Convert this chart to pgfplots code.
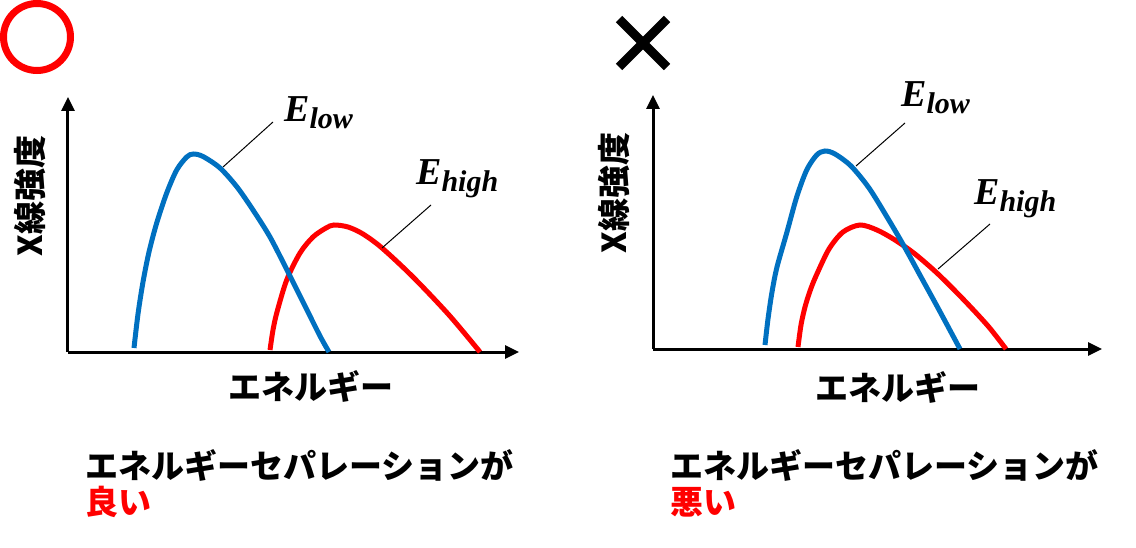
\documentclass[border=0pt]{standalone}
\usepackage{fontspec}
\usepackage{pgfplots}
\pgfplotsset{compat=1.18}
\usetikzlibrary{arrows.meta}
\newfontfamily\jp{Noto Sans CJK JP}
\newfontfamily\eserif{Liberation Serif}
\definecolor{lowblue}{HTML}{0070C0}
\definecolor{highred}{HTML}{FF0000}

% E with a subscript, as in the reference
\newcommand{\elabel}[1]{{\eserif\bfseries\itshape\fontsize{38}{40}\selectfont E\raisebox{-7pt}{\fontsize{30}{32}\selectfont #1}}}

\pgfplotsset{
  panel/.style={
    scale only axis, anchor=south west, clip=false,
    xmin=0, ymin=0,
    axis lines=left, ticks=none,
    axis line style={line width=3pt, -{Triangle[length=14pt,width=13pt]}},
    label style={font=\jp\bfseries\fontsize{33}{36}\selectfont},
    x label style={anchor=center},
    y label style={anchor=center, rotate=0},
  },
  curve/.style={line width=5pt, smooth, tension=0.5, no markers},
}

\begin{document}
\begin{tikzpicture}
\path[use as bounding box] (0pt,0pt) rectangle (1136pt,547pt);

% left panel: good separation
\draw[highred, line width=7pt] (37pt,510pt) circle (33.5pt);
\begin{axis}[panel, at={(68pt,195pt)}, width=451pt, height=255pt,
  xmax=451, ymax=255,
  xlabel={エネルギー}, ylabel={X線強度},
  x label style={at={(axis description cs:0.539,-0.137)}},
  y label style={at={(axis description cs:-0.084,0.612)}}]
\addplot[curve, highred] coordinates {
  (202,2) (205,22) (209,40) (218.7,72) (232,99) (245,115) (258,124) (266,127)
  (280,125) (295,118) (314,104) (345,75) (381,37) (412,0)};
\addplot[curve, lowblue] coordinates {
  (66,4) (70,38) (75,70) (81,100) (88.7,129) (98.7,159) (108.7,182) (118.7,195)
  (125.3,198) (135,195.5) (152,184) (169,165) (185,142) (202,115)
  (219,82) (236,48) (252,16) (261,0)};
\end{axis}
\draw[line width=1pt] (223pt,380pt) -- (273pt,425pt);
\draw[line width=1pt] (382pt,299pt) -- (431pt,342pt);
\node[anchor=base west, inner sep=0pt] at (284pt,425pt) {\elabel{low}};
\node[anchor=base west, inner sep=0pt] at (416pt,362pt) {\elabel{high}};
\node[anchor=west, inner sep=0pt, font=\jp\bfseries\fontsize{33}{36}\selectfont] at (85pt,82pt) {エネルギーセパレーションが};
\node[anchor=west, inner sep=0pt, text=highred, font=\jp\bfseries\fontsize{33}{36}\selectfont] at (85pt,45pt) {良い};

% right panel: poor separation
\draw[line width=9pt] (619pt,528pt) -- (667pt,480pt);
\draw[line width=9pt] (619pt,480pt) -- (667pt,528pt);
\begin{axis}[panel, at={(653pt,198pt)}, width=449pt, height=254pt,
  xmax=449, ymax=254,
  xlabel={エネルギー}, ylabel={X線強度},
  x label style={at={(axis description cs:0.546,-0.15)}},
  y label style={at={(axis description cs:-0.087,0.614)}}]
\addplot[curve, highred] coordinates {
  (145,2) (148,24) (152,42) (157,58) (163,73) (176,100) (190,117) (207,124)
  (224,119) (242,109) (262,95) (285,75) (310,50) (335,23) (353,0)};
\addplot[curve, lowblue] coordinates {
  (112,4) (115,30) (119,57) (124,82) (133.7,116) (143.7,152) (153.7,179)
  (163.7,194) (172,198) (182,195) (198,183) (216,161) (234,132)
  (251,103) (268,72) (285,41) (307,0)};
\end{axis}
\draw[line width=1pt] (856pt,381pt) -- (905pt,424pt);
\draw[line width=1pt] (938pt,278pt) -- (990pt,323pt);
\node[anchor=base west, inner sep=0pt] at (901pt,440pt) {\elabel{low}};
\node[anchor=base west, inner sep=0pt] at (974pt,342pt) {\elabel{high}};
\node[anchor=west, inner sep=0pt, font=\jp\bfseries\fontsize{33}{36}\selectfont] at (670pt,82pt) {エネルギーセパレーションが};
\node[anchor=west, inner sep=0pt, text=highred, font=\jp\bfseries\fontsize{33}{36}\selectfont] at (670pt,45pt) {悪い};
\end{tikzpicture}
\end{document}
